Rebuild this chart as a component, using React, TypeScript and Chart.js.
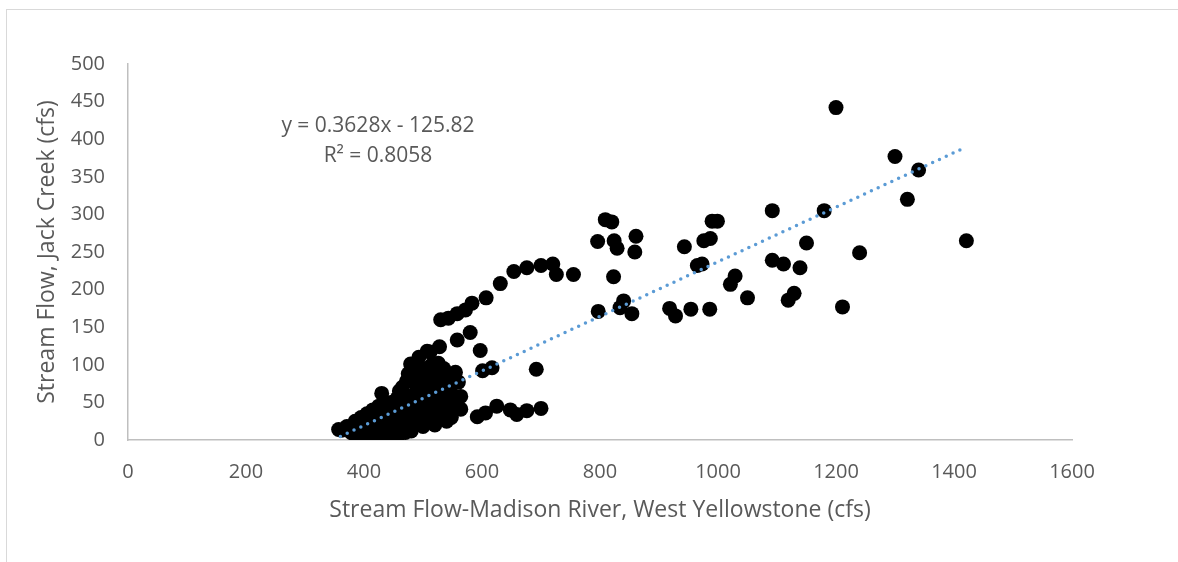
import React, { useEffect, useRef } from "react";
import { Chart, registerables } from "chart.js";

Chart.register(...registerables);

// Stream flow, Madison River at West Yellowstone (cfs)
const madisonFlow: number[] = [
  1200, 1300, 1340, 1321, 1421, 1240, 1211, 1180, 1150, 1139, 1111, 1092, 1092, 1129, 1119,
  1050, 1029, 1021, 990, 999, 976, 987, 965, 973, 986, 954, 943, 918, 928,
  861, 859, 854, 840, 834, 829, 824, 823, 809, 820, 796, 797,
  755, 726, 720, 700, 676, 654, 631, 607, 583, 572, 558, 543, 530,
  580, 558, 597, 528, 526, 512, 617, 601, 692,
  700, 676, 659, 648, 625, 606, 592, 564, 564, 560, 546, 538, 521, 529, 532,
  507, 493, 479, 510, 524, 430, 357, 371, 526, 538, 521, 472, 488,
  362, 375, 383, 388, 392, 396, 400, 402, 405, 408, 410, 412, 415, 417, 418, 420,
  422, 424, 426, 428, 430, 432, 434, 436, 438, 440, 442, 444, 446, 448, 450, 452,
  454, 456, 458, 460, 462, 464, 466, 468, 470, 472, 474, 476, 478, 480, 482, 485,
  488, 490, 493, 496, 498, 500, 502, 505, 508, 510, 512, 515, 518, 520, 522, 525,
  528, 535, 540, 530, 536,
  465, 475, 485, 495, 500, 505, 515, 520, 530, 535, 545, 550, 552, 548, 540, 555,
  515, 495, 480, 545, 460, 470, 490, 505, 512, 380, 395, 445, 455,
  385, 395, 405, 390, 400, 378, 415, 425, 410, 420, 440, 460, 470, 480, 500, 520,
];

// Stream flow, Jack Creek (cfs)
const jackCreekFlow: number[] = [
  442, 377, 359, 320, 265, 249, 177, 305, 262, 229, 234, 305, 239, 195, 186,
  189, 218, 207, 291, 291, 265, 268, 232, 234, 174, 174, 257, 175, 165,
  271, 250, 168, 185, 176, 255, 265, 217, 293, 290, 264, 171,
  220, 220, 234, 232, 229, 224, 208, 189, 182, 173, 168, 162, 160,
  143, 133, 119, 124, 102, 117, 96, 92, 94,
  42, 39, 34, 40, 45, 36, 31, 58, 41, 77, 84, 89, 89, 54, 30,
  118, 110, 101, 82, 85, 62, 14, 18, 67, 58, 36, 78, 85,
  13, 15, 8, 12, 6, 10, 14, 7, 20, 11, 25, 16, 9, 30, 20, 12,
  35, 24, 8, 17, 40, 28, 12, 22, 46, 33, 14, 26, 50, 18, 38, 10,
  30, 55, 22, 44, 15, 34, 52, 26, 18, 40, 58, 30, 48, 22, 36, 60,
  28, 50, 40, 24, 64, 33, 55, 45, 30, 62, 70, 38, 52, 28, 62, 45,
  35, 48, 40, 70, 65,
  70, 88, 95, 92, 75, 95, 100, 75, 80, 95, 70, 60, 45, 30, 25, 90,
  60, 50, 58, 30, 65, 48, 68, 55, 42, 18, 22, 8, 12,
  25, 30, 35, 18, 22, 10, 40, 45, 4, 5, 5, 8, 10, 12, 18, 20,
];

// Linear trendline as reported on the chart
const trendSlope = 0.3628;
const trendIntercept = -125.82;
const trendRange: number[] = [360, 1420];
const trendLabel: string[] = ["y = 0.3628x - 125.82", "R² = 0.8058"];

const xTitle = "Stream Flow-Madison River, West Yellowstone (cfs)";
const yTitle = "Stream Flow, Jack Creek (cfs)";

const FONT = "'Open Sans', 'Noto Sans', sans-serif";
const GREY = "#595959";

export default function App() {
  const canvasRef = useRef<HTMLCanvasElement | null>(null);

  useEffect(() => {
    const canvas = canvasRef.current;
    if (!canvas) return;

    const points = madisonFlow.map((x, i) => ({ x, y: jackCreekFlow[i] }));
    const trend = trendRange.map((x) => ({ x, y: trendSlope * x + trendIntercept }));

    const labelPlugin = {
      id: "trendLabel",
      afterDraw(chart: any) {
        const ctx = chart.ctx;
        ctx.save();
        ctx.fillStyle = GREY;
        ctx.font = `21px ${FONT}`;
        ctx.textAlign = "center";
        ctx.textBaseline = "middle";
        ctx.fillText(trendLabel[0], 378, 126);
        ctx.fillText(trendLabel[1], 378, 156);
        ctx.restore();
      },
    };

    const plain = (v: any) => String(v);

    const chart = new Chart(canvas, {
      type: "scatter",
      data: {
        datasets: [
          {
            type: "line",
            label: "Linear trend",
            data: trend,
            borderColor: "#5B9BD5",
            borderWidth: 3.5,
            borderDash: [0, 7.5],
            borderCapStyle: "round",
            pointRadius: 0,
            fill: false,
            order: 0,
          } as any,
          {
            label: "Jack Creek",
            data: points,
            backgroundColor: "#000000",
            borderColor: "#000000",
            borderWidth: 0,
            pointRadius: 7.5,
            pointHoverRadius: 7.5,
            order: 1,
          },
        ],
      },
      options: {
        responsive: false,
        animation: false,
        events: [],
        layout: { padding: { left: 0, top: 64, right: 106, bottom: 0 } },
        plugins: {
          legend: { display: false },
          tooltip: { enabled: false },
        },
        scales: {
          x: {
            type: "linear",
            min: 0,
            max: 1600,
            grid: { display: false, drawTicks: false },
            border: { display: true, color: "#bfbfbf", width: 1.5 },
            ticks: {
              stepSize: 200,
              padding: 20,
              color: GREY,
              font: { family: FONT, size: 20 },
              maxRotation: 0,
              autoSkip: false,
              callback: plain,
            },
            title: {
              display: true,
              text: xTitle,
              color: GREY,
              font: { family: FONT, size: 23 },
              padding: { top: 0, bottom: 38 },
            },
            afterFit(scale: any) {
              scale.height = 122;
            },
          },
          y: {
            type: "linear",
            min: 0,
            max: 500,
            grid: { display: false, drawTicks: false },
            border: { display: true, color: "#bfbfbf", width: 1.5 },
            ticks: {
              stepSize: 50,
              padding: 23,
              color: GREY,
              font: { family: FONT, size: 20 },
              autoSkip: false,
              callback: plain,
            },
            title: {
              display: true,
              text: yTitle,
              color: GREY,
              font: { family: FONT, size: 23 },
              padding: { top: 34, bottom: 0 },
            },
            afterFit(scale: any) {
              scale.width = 128;
            },
          },
        },
      },
      plugins: [labelPlugin],
    });

    return () => chart.destroy();
  }, []);

  return (
    <div
      style={{
        position: "fixed",
        left: 0,
        top: 0,
        width: 1178,
        height: 562,
        background: "#ffffff",
        overflow: "hidden",
      }}
    >
      <div
        style={{
          position: "absolute",
          left: 6,
          top: 9,
          width: 1300,
          height: 700,
          border: "1px solid #d9d9d9",
          boxSizing: "border-box",
        }}
      />
      <canvas
        ref={canvasRef}
        width={1178}
        height={562}
        style={{ position: "absolute", left: 0, top: 0, width: 1178, height: 562 }}
      />
    </div>
  );
}
